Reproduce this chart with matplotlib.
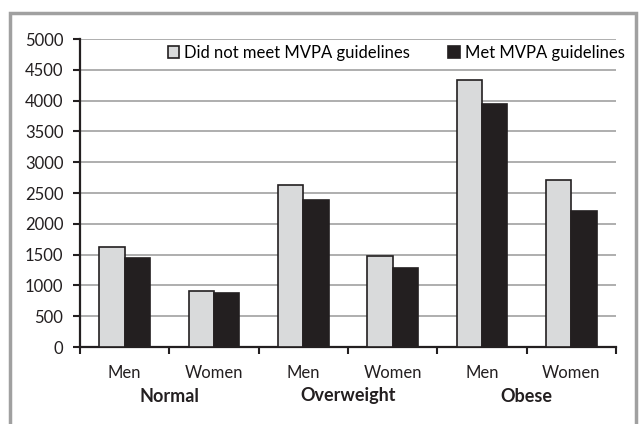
import matplotlib.pyplot as plt
import numpy as np
from matplotlib.patches import Rectangle

plt.rcParams['font.family'] = ['Lato', 'DejaVu Sans']

groups = ['Normal', 'Overweight', 'Obese']
sexes = ['Men', 'Women', 'Men', 'Women', 'Men', 'Women']
not_met = [1620, 910, 2630, 1470, 4340, 2710]
met = [1440, 870, 2380, 1290, 3950, 2200]
series_names = ['Did not meet MVPA guidelines', 'Met MVPA guidelines']

W, H = 641, 424
fig = plt.figure(figsize=(W / 100, H / 100), dpi=100)
ax = fig.add_axes([80 / W, (H - 347) / H, (616 - 80) / W, (347 - 39) / H])

x = np.arange(len(sexes))
bw = 0.285
ax.bar(x - bw / 2, not_met, bw, color='#d9dadb', edgecolor='#231f20', lw=1.2,
       label=series_names[0], zorder=3)
ax.bar(x + bw / 2, met, bw, color='#231f20', edgecolor='#231f20', lw=1.2,
       label=series_names[1], zorder=3)

ax.set_xlim(-0.5, len(sexes) - 0.5)
ax.set_ylim(0, 5000)
ax.set_yticks(np.arange(0, 5001, 500))
ax.yaxis.grid(True, color='#a8a8a8', lw=1.3, zorder=0)
ax.set_axisbelow(True)

# category boundaries as major ticks, labels on minor ticks
ax.set_xticks(np.arange(-0.5, len(sexes), 1.0))
ax.set_xticklabels([])
ax.set_xticks(x, minor=True)
ax.set_xticklabels(sexes, minor=True)
ax.tick_params(axis='x', which='major', length=5, width=1.5, color='#231f20')
ax.tick_params(axis='x', which='minor', length=0, pad=13, labelsize=12,
               labelcolor='#231f20')
ax.tick_params(axis='y', length=5, width=1.5, color='#231f20', labelsize=12,
               labelcolor='#231f20', pad=7)

for s in ['top', 'right']:
    ax.spines[s].set_visible(False)
for s in ['left', 'bottom']:
    ax.spines[s].set_linewidth(1.6)
    ax.spines[s].set_color('#231f20')

for i, g in enumerate(groups):
    ax.text(2 * i + 0.5, -49 / 308, g, transform=ax.get_xaxis_transform(),
            ha='center', va='center', fontsize=13, fontweight='bold',
            color='#231f20')

fig.legend(loc='center right', bbox_to_anchor=(625 / W, (H - 53) / H), ncol=2,
           frameon=False, fontsize=12, handlelength=0.7, handleheight=0.7,
           handletextpad=0.3, columnspacing=2.3, borderaxespad=0, borderpad=0)

fig.patches.append(Rectangle((10 / W, -0.05), (636 - 10) / W, (H - 13) / H + 0.05,
                             transform=fig.transFigure, fill=False,
                             edgecolor='#a0a0a0', lw=2.5))

fig.savefig('out.png', dpi=100)
